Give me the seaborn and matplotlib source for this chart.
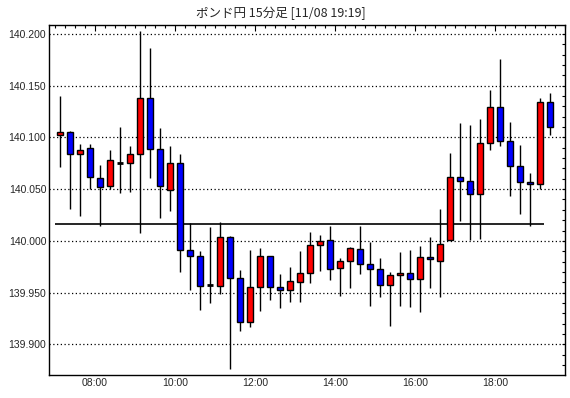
import numpy as np
import matplotlib
matplotlib.use("Agg")
import matplotlib.pyplot as plt
from matplotlib.ticker import MultipleLocator, FixedLocator, FuncFormatter
import seaborn as sns

# 15-minute bars from 07:00 to 19:15 (hours of bar start)
bar_start = [7 + 0.25 * i for i in range(50)]

opens = [140.102, 140.105, 140.084, 140.090, 140.061, 140.053, 140.075, 140.075, 140.084, 140.138,
         140.089, 140.049, 140.075, 139.991, 139.985, 139.957, 139.956, 140.004, 139.964, 139.922,
         139.955, 139.985, 139.955, 139.952, 139.960, 139.969, 139.996, 140.001, 139.974, 139.981,
         139.992, 139.978, 139.973, 139.957, 139.967, 139.969, 139.963, 139.984, 139.981, 140.001,
         140.062, 140.058, 140.045, 140.095, 140.129, 140.097, 140.072, 140.057, 140.055, 140.134]
highs = [140.140, 140.106, 140.094, 140.094, 140.073, 140.088, 140.110, 140.092, 140.203, 140.186,
         140.109, 140.092, 140.084, 140.017, 139.990, 140.013, 140.018, 140.005, 139.972, 139.991,
         139.993, 139.985, 139.968, 139.975, 139.990, 140.009, 140.006, 140.014, 139.983, 139.994,
         140.014, 139.999, 139.983, 139.970, 139.989, 139.991, 139.995, 140.004, 140.031, 140.085,
         140.114, 140.112, 140.118, 140.146, 140.176, 140.115, 140.093, 140.066, 140.138, 140.143]
lows = [140.071, 140.031, 140.024, 140.050, 140.014, 140.050, 140.046, 140.047, 140.008, 140.061,
        140.022, 140.029, 139.970, 139.952, 139.933, 139.940, 139.949, 139.876, 139.913, 139.917,
        139.932, 139.943, 139.935, 139.941, 139.941, 139.959, 139.971, 139.962, 139.947, 139.954,
        139.968, 139.937, 139.946, 139.918, 139.937, 139.936, 139.931, 139.954, 139.946, 140.001,
        140.019, 140.001, 140.002, 140.088, 140.092, 140.043, 140.026, 140.014, 140.050, 140.102]
closes = [140.105, 140.084, 140.088, 140.062, 140.052, 140.078, 140.075, 140.084, 140.138, 140.089,
          140.053, 140.075, 139.991, 139.985, 139.956, 139.957, 140.004, 139.964, 139.922, 139.955,
          139.985, 139.955, 139.952, 139.961, 139.969, 139.996, 140.000, 139.973, 139.981, 139.993,
          139.978, 139.973, 139.957, 139.967, 139.969, 139.963, 139.984, 139.982, 139.997, 140.062,
          140.058, 140.045, 140.095, 140.129, 140.097, 140.072, 140.057, 140.055, 140.134, 140.110]

ref_level = 140.016
ref_span = (7.0, 19.225)
hour_labels = ["08:00", "10:00", "12:00", "14:00", "16:00", "18:00"]
hour_ticks = [8, 10, 12, 14, 16, 18]

sns.set_style("white")
plt.rcParams["font.family"] = ["Liberation Sans", "DejaVu Sans"]

fig = plt.figure(figsize=(5.7, 3.98), dpi=100)
ax = fig.add_axes([49 / 570, 23 / 398, 516 / 570, 350 / 398])

x = np.array(bar_start) + 0.125
o = np.array(opens)
c = np.array(closes)

# wicks
ax.vlines(x, lows, highs, color="black", lw=1, zorder=2)

# bodies: red = up, blue = down, black dash = unchanged
up = c > o
down = c < o
flat = c == o
ax.bar(x[up], (c - o)[up], bottom=o[up], width=0.16, color="#ff0000",
       edgecolor="black", linewidth=1, zorder=3)
ax.bar(x[down], (c - o)[down], bottom=o[down], width=0.16, color="#0000ff",
       edgecolor="black", linewidth=1, zorder=3)
ax.hlines(o[flat], x[flat] - 0.08, x[flat] + 0.08, color="black", lw=2, zorder=3)

# reference line
ax.hlines(ref_level, *ref_span, color="black", lw=1.2, zorder=1)

ax.set_xlim(6.85, 19.75)
ax.set_ylim(139.8703, 140.2087)

ax.yaxis.set_major_locator(MultipleLocator(0.05))
ax.yaxis.set_minor_locator(MultipleLocator(0.01))
ax.yaxis.set_major_formatter(FuncFormatter(lambda v, p: f"{v:.3f}"))
ax.xaxis.set_major_locator(FixedLocator(hour_ticks))
ax.xaxis.set_minor_locator(MultipleLocator(0.25))
ax.set_xticklabels(hour_labels)

ax.grid(axis="y", which="major", color="black", linestyle=(0, (1, 2)), lw=0.9)
ax.tick_params(axis="both", which="both", direction="in", color="black",
               top=True, right=True, labelsize=7.5, pad=2)
ax.tick_params(axis="y", which="both", length=2.3, width=0.8)
ax.tick_params(axis="x", which="minor", length=2.3, width=0.8)
ax.tick_params(axis="x", which="major", length=4.0, width=0.8)
for s in ax.spines.values():
    s.set_color("black")
    s.set_linewidth(1)

fig.text(281 / 570, 1 - 13 / 398, "ポンド円 15分足 [11/08 19:19]",
         ha="center", va="center", fontsize=9,
         family=["Noto Sans CJK JP", "DejaVu Sans"])

fig.savefig("out.png", dpi=100, facecolor="white")
